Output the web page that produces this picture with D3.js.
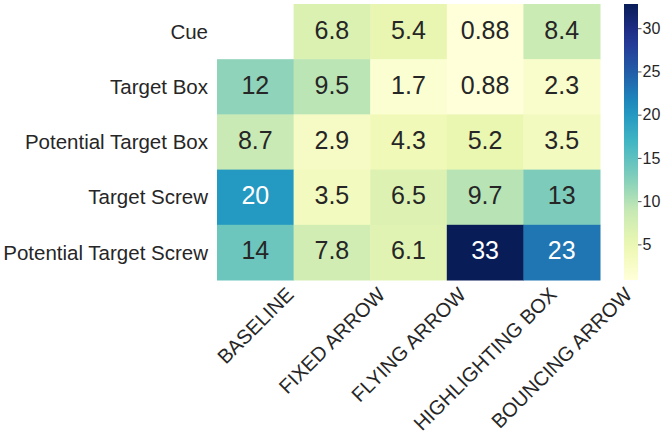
<!DOCTYPE html>
<html>
<head>
<meta charset="utf-8">
<script src="https://cdn.jsdelivr.net/npm/d3@7"></script>
<style>
  body { margin: 0; background: #fff; }
  text { font-family: "Liberation Sans", Arial, sans-serif; fill: #262626; }
</style>
</head>
<body>
<div class="chart"></div>
<script>
// Data
var cues = ["BASELINE", "FIXED ARROW", "FLYING ARROW", "HIGHLIGHTING BOX", "BOUNCING ARROW"];
var rows = ["Cue", "Target Box", "Potential Target Box", "Target Screw", "Potential Target Screw"];
var cueRow = [null, 6.8, 5.4, 0.88, 8.4];
var targetBox = [12, 9.5, 1.7, 0.88, 2.3];
var potentialTargetBox = [8.7, 2.9, 4.3, 5.2, 3.5];
var targetScrew = [20, 3.5, 6.5, 9.7, 13];
var potentialTargetScrew = [14, 7.8, 6.1, 32.8, 23];
var colorTicks = [5, 10, 15, 20, 25, 30];

var values = [cueRow, targetBox, potentialTargetBox, targetScrew, potentialTargetScrew];

// Configuration
var width = 665;
var height = 444;
var plotLeft = 217, plotRight = 600, plotTop = 4, plotBottom = 280;

// YlGnBu, same 9 stops as matplotlib
var ylgnbu = ["#ffffd9", "#edf8b1", "#c7e9b4", "#7fcdbb", "#41b6c4",
              "#1d91c0", "#225ea8", "#253494", "#081d58"];
var interp = d3.piecewise(d3.interpolateRgb, ylgnbu);

var cells = [];
values.forEach(function(r, i) {
  r.forEach(function(v, j) {
    cells.push({ row: rows[i], col: cues[j], value: v });
  });
});
var valid = cells.filter(function(d) { return d.value != null; });
var vmin = d3.min(valid, function(d) { return d.value; });
var vmax = d3.max(valid, function(d) { return d.value; });

var color = d3.scaleSequential(interp).domain([vmin, vmax]);

var x = d3.scaleBand().domain(cues).range([plotLeft, plotRight]);
var y = d3.scaleBand().domain(rows).range([plotTop, plotBottom]);

var svg = d3.select(".chart").append("svg")
    .attr("width", width)
    .attr("height", height);

// cells
svg.append("g").selectAll("rect")
    .data(valid)
    .enter().append("rect")
    .attr("x", function(d) { return x(d.col); })
    .attr("y", function(d) { return y(d.row); })
    .attr("width", x.bandwidth() + 0.5)
    .attr("height", y.bandwidth() + 0.5)
    .style("fill", function(d) { return color(d.value); });

// annotations
svg.append("g").selectAll("text")
    .data(valid)
    .enter().append("text")
    .attr("x", function(d) { return x(d.col) + x.bandwidth() / 2; })
    .attr("y", function(d) { return y(d.row) + y.bandwidth() / 2; })
    .attr("text-anchor", "middle")
    .attr("dy", "0.28em")
    .style("font-size", "25px")
    .style("fill", function(d) {
      var c = d3.hsl(color(d.value));
      return c.l < 0.5 ? "#ffffff" : "#262626";
    })
    .text(function(d) { return d3.format(".2g")(d.value); });

// row labels
svg.append("g").selectAll("text")
    .data(rows)
    .enter().append("text")
    .attr("x", plotLeft - 9)
    .attr("y", function(d) { return y(d) + y.bandwidth() / 2; })
    .attr("text-anchor", "end")
    .attr("dy", "0.35em")
    .style("font-size", "20.5px")
    .text(function(d) { return d; });

// column labels, rotated 45 and centred on the tick
var colLabels = svg.append("g").selectAll("g")
    .data(cues)
    .enter().append("g");
colLabels.append("text")
    .attr("text-anchor", "middle")
    .attr("dy", "0.35em")
    .attr("transform", "rotate(-45)")
    .style("font-size", "20px")
    .text(function(d) { return d; });
colLabels.attr("transform", function(d) {
  var b = this.querySelector("text").getBBox();
  var half = (b.width + 14) / Math.SQRT2 / 2;
  return "translate(" + (x(d) + x.bandwidth() / 2) + "," + (plotBottom + 6 + half) + ")";
});

// colorbar
var cbX = 624, cbW = 14;
var cy = d3.scaleLinear().domain([vmin, vmax]).range([plotBottom, plotTop]);

var defs = svg.append("defs");
var grad = defs.append("linearGradient")
    .attr("id", "cbar")
    .attr("x1", "0").attr("y1", "1")
    .attr("x2", "0").attr("y2", "0");
d3.range(0, 1.0001, 0.05).forEach(function(t) {
  grad.append("stop")
      .attr("offset", t)
      .attr("stop-color", interp(t));
});
svg.append("rect")
    .attr("x", cbX)
    .attr("y", plotTop)
    .attr("width", cbW)
    .attr("height", plotBottom - plotTop)
    .style("fill", "url(#cbar)");

var cbAxis = svg.append("g")
    .attr("transform", "translate(" + (cbX + cbW) + ",0)")
    .call(d3.axisRight(cy).tickValues(colorTicks).tickSize(3.5).tickPadding(1));
cbAxis.attr("font-size", 16).attr("font-family", null);
cbAxis.select(".domain").remove();
cbAxis.selectAll(".tick line").attr("stroke", "#262626").attr("stroke-width", 0.8);
cbAxis.selectAll(".tick text")
    .style("font-size", "16px")
    .style("fill", "#262626");
</script>
</body>
</html>
